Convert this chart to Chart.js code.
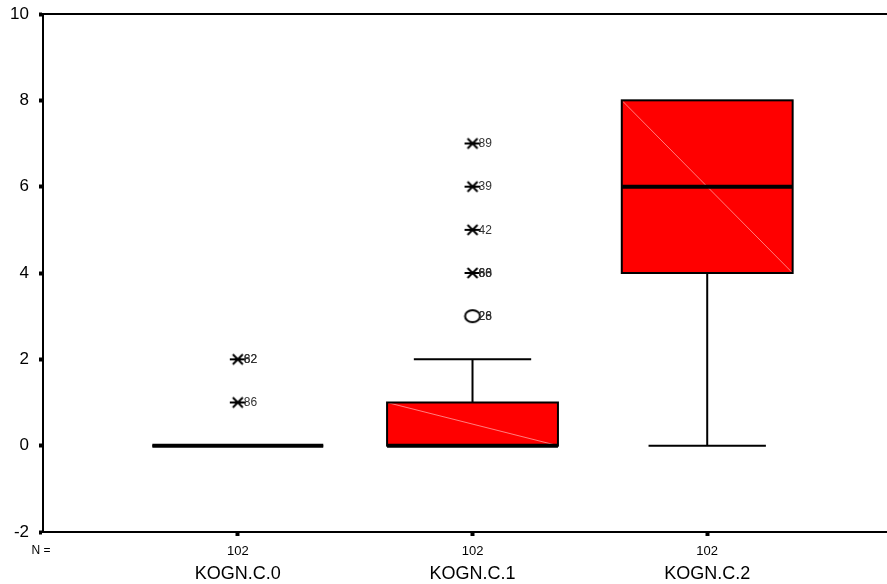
<!DOCTYPE html>
<html>
<head>
<meta charset="utf-8">
<script src="https://cdn.jsdelivr.net/npm/chart.js@4/dist/chart.umd.min.js"></script>
<style>
  html, body { margin: 0; padding: 0; background: #fff; }
  #wrap { width: 887px; height: 584px; }
</style>
</head>
<body>
<div id="wrap"><canvas id="box" width="887" height="584"></canvas></div>
<script>
// SPSS style boxplot, one box per KOGN.C variable
const categories = ['KOGN.C.0', 'KOGN.C.1', 'KOGN.C.2'];
const counts = [102, 102, 102];
const q1 = [0, 0, 4];
const medians = [0, 0, 6];
const q3 = [0, 1, 8];
const whiskerLow = [0, 0, 0];
const whiskerHigh = [0, 2, 8];

// circles (outliers) and asterisks (extremes)
const outlierGroup = [1];
const outlierValues = [3];
const outlierLabels = [['26', '28']];
const extremeGroup = [0, 0, 1, 1, 1, 1];
const extremeValues = [2, 1, 4, 5, 6, 7];
const extremeLabels = [['82', '62'], ['86'], ['60', '66', '88'], ['42'], ['39'], ['89']];

const yTicks = [-2, 0, 2, 4, 6, 8, 10];
const FONT = '"Liberation Sans", Arial, sans-serif';

const BOX_HALF = 0.364, CAP_HALF = 0.25;

// asterisk marker: X with a horizontal bar
function starMark() {
  const c = document.createElement('canvas');
  c.width = 18; c.height = 14;
  const g = c.getContext('2d');
  g.strokeStyle = '#000'; g.lineWidth = 2;
  g.beginPath();
  g.moveTo(4, 2); g.lineTo(14, 12);
  g.moveTo(4, 12); g.lineTo(14, 2);
  g.moveTo(1, 7); g.lineTo(17, 7);
  g.stroke();
  return c;
}
function ringMark() {
  const c = document.createElement('canvas');
  c.width = 20; c.height = 16;
  const g = c.getContext('2d');
  g.strokeStyle = '#000'; g.lineWidth = 2;
  g.beginPath();
  g.ellipse(10, 8, 7.5, 6, 0, 0, Math.PI * 2);
  g.stroke();
  return c;
}

const boxPlugin = {
  id: 'boxes',
  beforeDatasetsDraw(chart) {
    const { ctx, scales: { x, y } } = chart;
    ctx.save();
    categories.forEach((_, i) => {
      const l = x.getPixelForValue(i - BOX_HALF), r = x.getPixelForValue(i + BOX_HALF);
      const cl = x.getPixelForValue(i - CAP_HALF), cr = x.getPixelForValue(i + CAP_HALF);
      const cx = x.getPixelForValue(i);
      const top = y.getPixelForValue(q3[i]), bot = y.getPixelForValue(q1[i]);
      const hi = y.getPixelForValue(whiskerHigh[i]), lo = y.getPixelForValue(whiskerLow[i]);
      ctx.strokeStyle = '#000'; ctx.lineWidth = 2;
      ctx.beginPath();
      if (whiskerHigh[i] > q3[i]) {
        ctx.moveTo(cx, top); ctx.lineTo(cx, hi);
        ctx.moveTo(cl, hi); ctx.lineTo(cr, hi);
      }
      if (whiskerLow[i] < q1[i]) {
        ctx.moveTo(cx, bot); ctx.lineTo(cx, lo);
        ctx.moveTo(cl, lo); ctx.lineTo(cr, lo);
      }
      ctx.stroke();
      ctx.fillStyle = '#ff0000';
      ctx.fillRect(l, top, r - l, bot - top);
      if (bot - top > 2) {
        ctx.strokeStyle = 'rgba(255,140,140,0.9)'; ctx.lineWidth = 1;
        ctx.beginPath(); ctx.moveTo(l, top); ctx.lineTo(r, bot); ctx.stroke();
      }
      ctx.strokeStyle = '#000'; ctx.lineWidth = 2;
      ctx.strokeRect(l, top, r - l, bot - top);
      const m = y.getPixelForValue(medians[i]);
      ctx.lineWidth = 4;
      ctx.beginPath(); ctx.moveTo(l, m); ctx.lineTo(r, m); ctx.stroke();
    });
    ctx.restore();
  },
  afterDatasetsDraw(chart) {
    const { ctx, scales: { x, y } } = chart;
    ctx.save();
    ctx.font = '12px ' + FONT;
    ctx.fillStyle = '#333';
    ctx.textBaseline = 'middle';
    ctx.textAlign = 'left';
    const put = (g, v, labs) => labs.forEach(t => ctx.fillText(t, x.getPixelForValue(g) + 6, y.getPixelForValue(v) + 0.5));
    outlierGroup.forEach((g, k) => put(g, outlierValues[k], outlierLabels[k]));
    extremeGroup.forEach((g, k) => put(g, extremeValues[k], extremeLabels[k]));
    ctx.restore();
  },
  afterDraw(chart) {
    const { ctx, chartArea: a, scales: { x } } = chart;
    ctx.save();
    ctx.strokeStyle = '#000'; ctx.lineWidth = 2;
    ctx.beginPath(); ctx.moveTo(a.left - 1, a.top); ctx.lineTo(chart.width, a.top); ctx.stroke();
    ctx.fillStyle = '#000';
    ctx.textAlign = 'center'; ctx.textBaseline = 'middle';
    ctx.font = '12px ' + FONT;
    ctx.fillText('N =', a.left - 2, 551);
    ctx.font = '18px ' + FONT;
    categories.forEach((c, i) => ctx.fillText(c, x.getPixelForValue(i), 574));
    ctx.restore();
  }
};

new Chart(document.getElementById('box'), {
  type: 'scatter',
  data: {
    datasets: [
      {
        label: 'extremes',
        data: extremeGroup.map((g, k) => ({ x: g, y: extremeValues[k] })),
        pointStyle: starMark(), pointRadius: 7
      },
      {
        label: 'outliers',
        data: outlierGroup.map((g, k) => ({ x: g, y: outlierValues[k] })),
        pointStyle: ringMark(), pointRadius: 8
      }
    ]
  },
  options: {
    responsive: false,
    animation: false,
    layout: { autoPadding: false, padding: { top: 14, right: 0, left: 0, bottom: 0 } },
    plugins: { legend: { display: false }, tooltip: { enabled: false } },
    scales: {
      x: {
        type: 'linear', min: -0.83, max: 2.766,
        afterBuildTicks: s => { s.ticks = categories.map((_, i) => ({ value: i })); },
        afterFit: s => { s.height = 52; s.paddingLeft = 0; s.paddingRight = 0; },
        border: { display: true, color: '#000', width: 2 },
        grid: { drawOnChartArea: false, tickLength: 4, tickWidth: 4, tickColor: '#000' },
        ticks: {
          color: '#000', font: { family: FONT, size: 13 }, padding: 8,
          callback: v => counts[v] !== undefined ? String(counts[v]) : ''
        }
      },
      y: {
        min: -2, max: 10,
        afterBuildTicks: s => { s.ticks = yTicks.map(v => ({ value: v })); },
        afterFit: s => { s.width = 43; s.paddingTop = 0; s.paddingBottom = 0; },
        border: { display: true, color: '#000', width: 2 },
        grid: { drawOnChartArea: false, tickLength: 4, tickWidth: 4, tickColor: '#000' },
        ticks: { color: '#000', font: { family: FONT, size: 17 }, padding: 10 }
      }
    }
  },
  plugins: [boxPlugin]
});
</script>
</body>
</html>
